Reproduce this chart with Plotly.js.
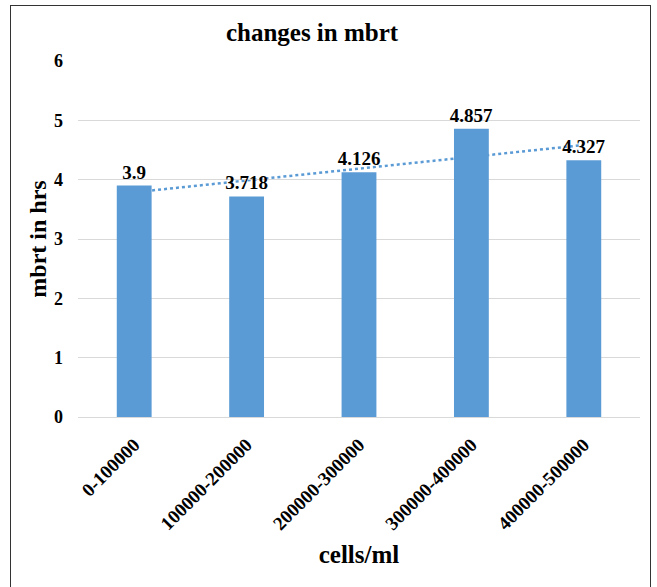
<!DOCTYPE html>
<html>
<head>
<meta charset="utf-8">
<script src="https://cdn.plot.ly/plotly-3.0.1.min.js"></script>
<style>
  html, body { margin: 0; padding: 0; overflow: hidden; background: #fff; }
  #wrap { position: relative; width: 657px; height: 587px; }
  #chart { width: 657px; height: 587px; }
  #frame { position: absolute; left: 10px; top: 5px; width: 639px; height: 620px;
           border: 1.5px solid #333; pointer-events: none; }
</style>
</head>
<body>
<div id="wrap">
  <div id="chart"></div>
  <div id="frame"></div>
</div>
<script>
const categories = ["0-100000", "100000-200000", "200000-300000", "300000-400000", "400000-500000"];
const mbrtValues = [3.9, 3.718, 4.126, 4.857, 4.327];
const valueLabels = ["3.9", "3.718", "4.126", "4.857", "4.327"];
const yTicks = [0, 1, 2, 3, 4, 5, 6];

// linear trendline (least squares over category index), like a spreadsheet trendline
const n = mbrtValues.length;
const idx = mbrtValues.map((_, i) => i);
const mx = idx.reduce((a, b) => a + b, 0) / n;
const my = mbrtValues.reduce((a, b) => a + b, 0) / n;
let sxy = 0, sxx = 0;
idx.forEach((x, i) => { sxy += (x - mx) * (mbrtValues[i] - my); sxx += (x - mx) * (x - mx); });
const slope = sxy / sxx;
const intercept = my - slope * mx;

const serif = "Liberation Serif";

const bars = {
  type: "bar",
  x: categories,
  y: mbrtValues,
  text: valueLabels.map(s => "<b>" + s + "</b>"),
  textposition: "outside",
  constraintext: "none",
  textfont: { family: serif, size: 19, color: "#000" },
  marker: { color: "#5B9BD5" },
  cliponaxis: false,
  hoverinfo: "x+y"
};

const layout = {
  width: 657,
  height: 587,
  margin: { l: 78, r: 17, t: 61, b: 170, autoexpand: false },
  paper_bgcolor: "#fff",
  plot_bgcolor: "#fff",
  showlegend: false,
  bargap: 0.69,
  font: { family: serif, color: "#000" },
  title: {
    text: "<b>changes in mbrt</b>",
    font: { family: serif, size: 25, color: "#000" },
    x: 312 / 657, xanchor: "center", xref: "container",
    y: 1 - 32 / 587, yanchor: "middle", yref: "container"
  },
  xaxis: {
    type: "category",
    tickangle: -45,
    tickvals: categories,
    ticktext: categories.map(s => "<b>" + s + "</b>"),
    tickfont: { family: serif, size: 19, color: "#000" },
    showgrid: false,
    showline: false,
    ticks: "",
    ticklabelstandoff: 12,
    automargin: false,
    title: { text: "<b>cells/ml</b>", font: { family: serif, size: 25, color: "#000" }, standoff: 12 }
  },
  yaxis: {
    range: [0, 6],
    tickvals: yTicks,
    ticktext: yTicks.map(v => "<b>" + v + "</b>"),
    tickfont: { family: serif, size: 18, color: "#000" },
    showgrid: true,
    gridcolor: "#D9D9D9",
    gridwidth: 1,
    zeroline: true,
    zerolinecolor: "#D9D9D9",
    zerolinewidth: 1,
    showline: false,
    ticks: "",
    ticklabelstandoff: 14,
    automargin: false,
    title: { text: "<b>mbrt in hrs</b>", font: { family: serif, size: 24, color: "#000" }, standoff: 0 }
  },
  shapes: [{
    type: "line",
    layer: "below",
    xref: "x", yref: "y",
    x0: 0, y0: intercept,
    x1: n - 1, y1: intercept + slope * (n - 1),
    line: { color: "#5B9BD5", width: 2.5, dash: "dot" }
  }]
};

Plotly.newPlot("chart", [bars], layout, { displayModeBar: false, staticPlot: true });
</script>
</body>
</html>
